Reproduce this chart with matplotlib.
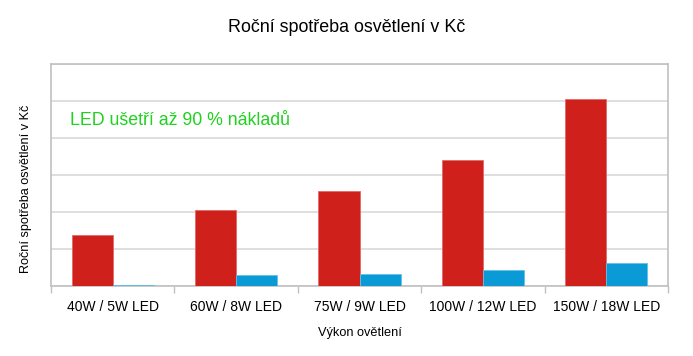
import numpy as np
import matplotlib
matplotlib.use("Agg")
import matplotlib.pyplot as plt

# data (no y tick labels shown, so relative units)
kategorie = ["40W / 5W LED", "60W / 8W LED", "75W / 9W LED", "100W / 12W LED", "150W / 18W LED"]
zarovka = [1.36, 2.04, 2.55, 3.39, 5.05]
led = [0.03, 0.28, 0.31, 0.42, 0.61]

plt.rcParams['font.family'] = ['Liberation Sans', 'DejaVu Sans']

fig = plt.figure(figsize=(6.93, 3.56), dpi=100)
ax = fig.add_axes([0.0736, 0.1975, 0.8904, 0.6241])

x = np.arange(len(kategorie))
w = 0.333
ax.bar(x - w / 2, zarovka, width=w, color='#d0201c', edgecolor='#e06a66', linewidth=0.6, zorder=3)
ax.bar(x + w / 2, led, width=w, color='#0a9ad6', edgecolor='#66c0e8', linewidth=0.6, zorder=3)

ax.set_xlim(-0.5, len(kategorie) - 0.5)
ax.set_ylim(0, 6)
ax.set_yticks(np.arange(0, 7, 1))
ax.set_yticklabels([])
ax.tick_params(axis='y', length=0)
ax.yaxis.grid(True, color='#d9d9d9', linewidth=1.2, zorder=0)

# ticks between categories, labels centred
ax.set_xticks(np.arange(-0.5, len(kategorie), 1))
ax.set_xticklabels([])
ax.set_xticks(x, minor=True)
ax.set_xticklabels(kategorie, minor=True, fontsize=10)
ax.tick_params(axis='x', which='major', length=5, color='#c0c0c0', width=1)
ax.tick_params(axis='x', which='minor', length=0, pad=10)

for s in ax.spines.values():
    s.set_color('#c0c0c0')
    s.set_linewidth(1.2)

ax.set_xlabel('Výkon ovětlení', fontsize=9.2, labelpad=10)
ax.set_ylabel('Roční spotřeba osvětlení v Kč', fontsize=9.1)
ax.yaxis.set_label_coords(-0.031, 0.437)
fig.text(0.5, 0.922, 'Roční spotřeba osvětlení v Kč', ha='center', va='center', fontsize=12.9)

ax.text(0.03, 0.745, 'LED ušetří až 90 % nákladů', transform=ax.transAxes,
        color='#1ed21e', fontsize=12.8, va='center', ha='left')

fig.savefig('out.png', dpi=100)
